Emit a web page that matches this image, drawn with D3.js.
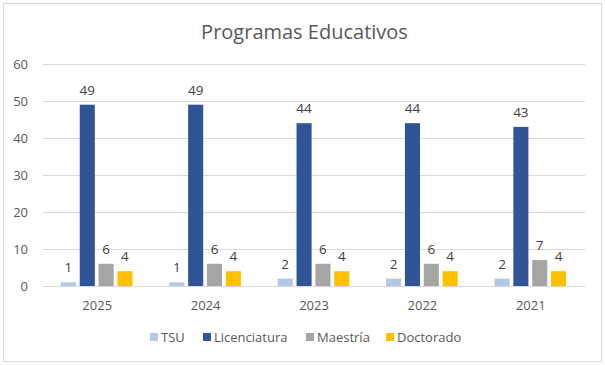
<!DOCTYPE html>
<html><head><meta charset="utf-8">
<script src="https://cdn.jsdelivr.net/npm/d3@7/dist/d3.min.js"></script>
<style>
body{margin:0;background:#fff;}
svg text{font-family:"Open Sans",sans-serif;}
</style></head>
<body><svg id="c" width="605" height="365"></svg>
<script>
const categories = ["2025","2024","2023","2022","2021"];
const seriesNames = ["TSU","Licenciatura","Maestría","Doctorado"];
const tsu = [1,1,2,2,2];
const licenciatura = [49,49,44,44,43];
const maestria = [6,6,6,6,7];
const doctorado = [4,4,4,4,4];
const yTicks = [0,10,20,30,40,50,60];
const colors = ["#B4C7E7","#2F5597","#A5A5A5","#FFC000"];

const values = [tsu, licenciatura, maestria, doctorado];
const svg = d3.select("#c");
svg.append("rect").attr("x",3.5).attr("y",3.5).attr("width",598).attr("height",358)
  .attr("fill","#fff").attr("stroke","#D9D9D9").attr("stroke-width",1);

svg.append("text").attr("x",304.5).attr("y",39).attr("text-anchor","middle")
  .attr("font-size",20).attr("fill","#595959").text("Programas Educativos");

const y = d3.scaleLinear().domain([0,60]).range([286,64]);
const x0 = d3.scaleBand().domain(categories).range([43,585]).paddingInner(0).paddingOuter(0);
const x1 = d3.scaleBand().domain(seriesNames).range([16, x0.bandwidth()-17]).paddingInner(0.2).paddingOuter(0.1);

const grid = svg.append("g");
grid.selectAll("line").data(yTicks).join("line")
  .attr("x1",43).attr("x2",585).attr("y1",d=>Math.round(y(d))+0.5).attr("y2",d=>Math.round(y(d))+0.5)
  .attr("stroke","#D9D9D9").attr("stroke-width",1);
svg.append("g").selectAll("text").data(yTicks).join("text")
  .attr("x",28).attr("y",d=>y(d)+5).attr("text-anchor","end")
  .attr("font-size",13).attr("fill","#595959").text(d=>d);

const groups = svg.append("g").selectAll("g").data(categories).join("g")
  .attr("transform",d=>`translate(${x0(d)},0)`);
seriesNames.forEach((s,si)=>{
  groups.append("rect")
    .attr("x",x1(s)).attr("width",x1.bandwidth())
    .attr("y",(d,i)=>y(values[si][i])).attr("height",(d,i)=>y(0)-y(values[si][i]))
    .attr("fill",colors[si]);
  groups.append("text")
    .attr("x",x1(s)+x1.bandwidth()/2).attr("y",(d,i)=>y(values[si][i])-10)
    .attr("text-anchor","middle").attr("font-size",13.5).attr("fill","#404040")
    .text((d,i)=>values[si][i]);
});
svg.append("line").attr("x1",43).attr("x2",585).attr("y1",286.5).attr("y2",286.5).attr("stroke","#D9D9D9");

svg.append("g").selectAll("text").data(categories).join("text")
  .attr("x",d=>x0(d)+x0.bandwidth()/2).attr("y",310).attr("text-anchor","middle")
  .attr("font-size",13).attr("fill","#595959").text(d=>d);

const legendX = [150,203,306,386];
const leg = svg.append("g").selectAll("g").data(seriesNames).join("g")
  .attr("transform",(d,i)=>`translate(${legendX[i]},333)`);
leg.append("rect").attr("width",8).attr("height",8).attr("fill",(d,i)=>colors[i]);
leg.append("text").attr("x",11).attr("y",9).attr("font-size",13).attr("fill","#595959").text(d=>d);
</script></body></html>
